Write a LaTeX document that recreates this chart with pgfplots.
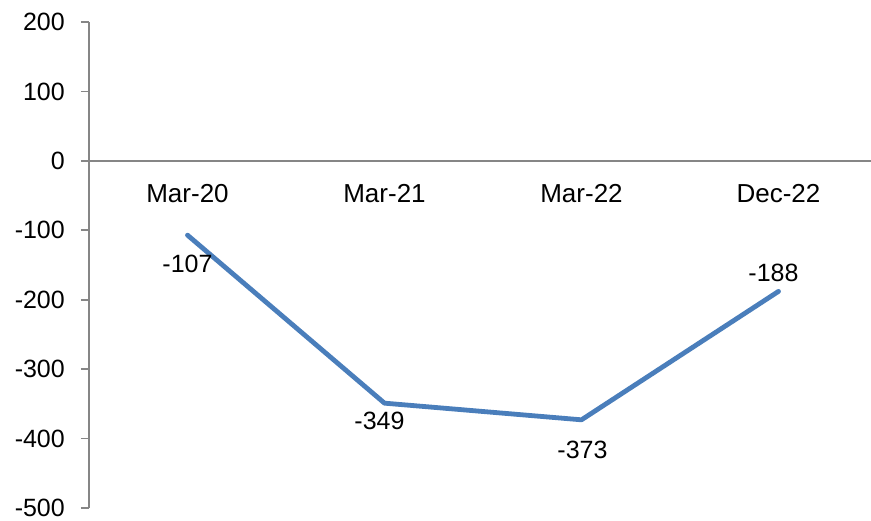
\documentclass[border=0pt]{standalone}
\usepackage{fontspec}
\setmainfont{Liberation Sans}
\usepackage{pgfplots}
\usepackage{pgfplotstable}
\pgfplotsset{compat=1.18}

\definecolor{axisgray}{HTML}{868686}
\definecolor{seriesblue}{HTML}{4A7EBB}

% position, value, label offsets (bp)
\pgfplotstableread{
x   y     dx   dy
0   -107  0    -29
1   -349  -5   -18
2   -373  1    -30
3   -188  -5   18
}\balance

\begin{document}
\fontsize{25bp}{30bp}\selectfont
\begin{tikzpicture}
\begin{axis}[
  name=ax,
  scale only axis,
  width=788bp, height=486bp,
  xmin=-0.5, xmax=3.5,
  ymin=-500, ymax=200,
  axis x line=middle,
  axis y line=left,
  axis line style={axisgray, line width=1.6bp, -},
  xtick={0,1,2,3},
  xticklabels={Mar-20,Mar-21,Mar-22,Dec-22},
  x tick style={draw=none},
  extra x ticks={0.5,1.5,2.5},
  extra x tick labels={},
  extra x tick style={
    x tick style={axisgray, line width=1.6bp, yshift=-4bp},
    major tick length=8bp},
  ytick={-500,-400,-300,-200,-100,0,100,200},
  major tick length=8bp,
  y tick style={axisgray, line width=1.6bp},
  ytick align=outside,
  xticklabel style={font=\fontsize{26bp}{30bp}\selectfont, anchor=north, inner sep=0pt, yshift=-19bp},
  yticklabel style={font=\fontsize{25bp}{30bp}\selectfont, anchor=east, inner sep=0pt, xshift=-16bp},
  /pgf/number format/assume math mode=true,
  yticklabel={\pgfmathprintnumber[assume math mode=true]{\tick}},
  clip=false,
]
\addplot[
  seriesblue, line width=4.8bp, line join=round, line cap=round,
  nodes near coords,
  point meta=explicit symbolic,
  visualization depends on={\thisrow{dx} \as \ldx},
  visualization depends on={\thisrow{dy} \as \ldy},
  every node near coord/.style={
    anchor=center, inner sep=0pt, black,
    font=\fontsize{25bp}{30bp}\selectfont,
    xshift=\ldx bp, yshift=\ldy bp},
] table[x=x, y=y, meta=y] {\balance};
\end{axis}
\pgfresetboundingbox
\path ([shift={(-89bp,-13bp)}]ax.south west) rectangle ([shift={(782bp,22bp)}]ax.north west);
\end{tikzpicture}
\end{document}
